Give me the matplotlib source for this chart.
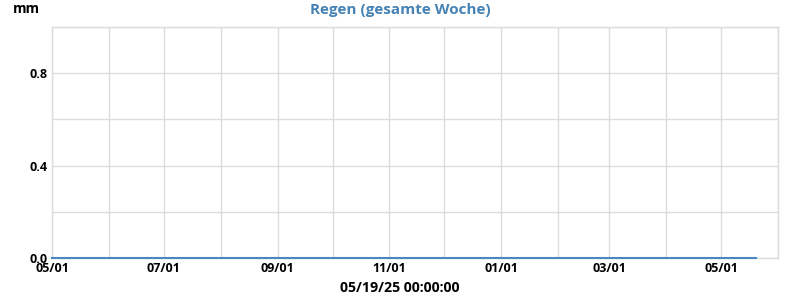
import matplotlib
matplotlib.use("Agg")
import matplotlib.pyplot as plt
import matplotlib.dates as mdates
import pandas as pd

# Data
dates = ["2024-05-01", "2025-05-20"]
rain_mm = [0.0, 0.0]
title = "Regen (gesamte Woche)"
y_unit = "mm"
x_label = "05/19/25 00:00:00"
y_ticks = [0.0, 0.4, 0.8]
y_labels = ["0.0", "0.4", "0.8"]

plt.rcParams['font.family'] = ['Open Sans', 'DejaVu Sans']

fig = plt.figure(figsize=(8, 3), dpi=100)
ax = fig.add_axes([52/800, 1-258/300, (778-52)/800, (258-27)/300])

x = pd.to_datetime(dates)
ax.plot(x, rain_mm, color="#4a86c0", lw=1.5, clip_on=False, zorder=3)

ax.set_xlim(pd.Timestamp("2024-05-01"), pd.Timestamp("2025-06-01"))
ax.set_ylim(0, 1.0)

ax.xaxis.set_major_locator(mdates.MonthLocator(bymonth=[1, 3, 5, 7, 9, 11]))
ax.xaxis.set_minor_locator(mdates.MonthLocator())
ax.xaxis.set_major_formatter(mdates.DateFormatter("%m/%d"))
ax.set_yticks(y_ticks)
ax.set_yticklabels(y_labels)
ax.set_yticks([0.2, 0.6, 1.0], minor=True)

ax.grid(True, which="both", color="#dcdcdc", lw=1)
ax.tick_params(which="both", length=0)
ax.tick_params(axis="both", labelsize=9, pad=3)
for lbl in ax.get_xticklabels() + ax.get_yticklabels():
    lbl.set_fontweight("bold")
for s in ax.spines.values():
    s.set_color("#dcdcdc")
    s.set_linewidth(1)

ax.set_xlabel(x_label, fontsize=10.2, fontweight="bold", labelpad=4)
ax.xaxis.label.set_x((400-52)/726)
fig.text(400/800, 1-10/300, title, ha="center", va="center", fontsize=11,
         fontweight="bold", color="#4682b4")
fig.text(26/800, 1-9/300, y_unit, ha="center", va="center", fontsize=10,
         fontweight="bold", color="black")

fig.savefig("out.png", dpi=100)
